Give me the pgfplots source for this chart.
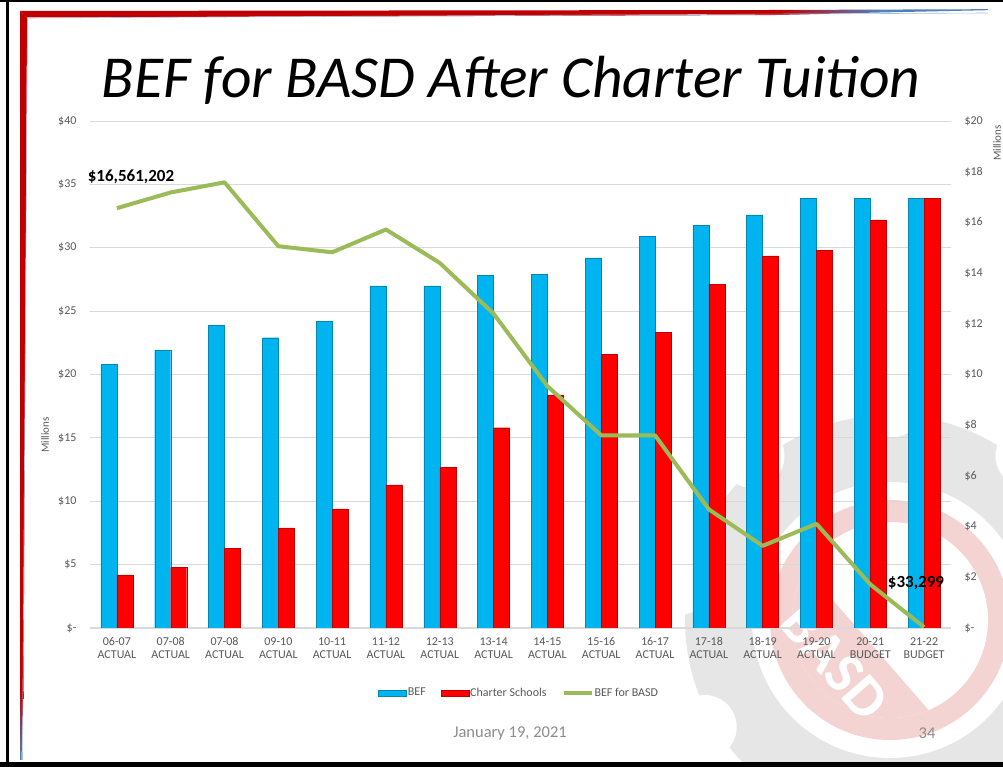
\documentclass[border=0pt]{standalone}
\usepackage{pgfplots}
\pgfplotsset{compat=1.18}
\usepackage{pgfplotstable}
\usepackage{fontspec}
\setmainfont{Carlito}

\definecolor{befblue}{HTML}{00B4F0}
\definecolor{chred}{HTML}{FF0000}
\definecolor{basdgreen}{HTML}{9BBB59}
\definecolor{ticktext}{HTML}{595959}
\definecolor{gridc}{HTML}{D9D9D9}
\definecolor{framered}{HTML}{C00000}
\definecolor{frameblue}{HTML}{4F81BD}
\definecolor{geargray}{HTML}{E6E6E6}
\definecolor{logopink}{HTML}{F4D3D3}
\definecolor{footgray}{HTML}{8C8C8C}

\pgfplotsset{
  widebar legend/.style={legend image code/.code={\draw[##1] (0pt,-3pt) rectangle (28pt,3pt);}},
  wideline legend/.style={legend image code/.code={\draw[##1] (0pt,0pt) -- (28pt,0pt);}},
}

% millions of dollars; bef and charter on the left axis, basd on the right
\pgfplotstableread{
idx bef   charter basd
0   20.8  4.2     16.561
1   21.9  4.76    17.18
2   23.9  6.3     17.58
3   22.9  7.9     15.06
4   24.2  9.4     14.82
5   27.0  11.3    15.72
6   27.0  12.65   14.4
7   27.8  15.8    12.4
8   27.9  18.4    9.54
9   29.2  21.6    7.6
10  30.9  23.3    7.6
11  31.75 27.1    4.68
12  32.6  29.35   3.24
13  33.9  29.8    4.11
14  33.9  32.2    1.72
15  33.9  33.9    0.033
}\befdata

\begin{document}
\begin{tikzpicture}
\useasboundingbox (0,0) rectangle (1003pt,767pt);
\begin{scope}[x=1pt,y=-1pt,yshift=767pt]
  \fill[white] (0,0) rectangle (1003,767);
  % faint logo in the lower right
  \begin{scope}[shift={(890,620)}]
    \fill[geargray] (0,0) circle (205pt);
    \foreach \a in {10,50,...,370} \fill[white] (\a:214pt) circle (32pt);
    \fill[white] (0,0) circle (138pt);
    \fill[logopink] (0,0) circle (120pt);
    \fill[white] (0,0) circle (98pt);
    \begin{scope}
      \clip (0,0) circle (98pt);
      \fill[logopink, rotate=-49] (-150pt,-100pt) rectangle (150pt,-30pt);
    \end{scope}
    \node[white, font=\bfseries\fontsize{58}{60}\selectfont, rotate=-49] at (-55,42) {BASD};
  \end{scope}
  % slide frame
  \fill[black] (0,0) rectangle (1003,2.5);
  \fill[black] (6,0) rectangle (9,767);
  \fill[black] (0,762) rectangle (1003,767);
  \fill[framered] (20,11) -- (780,10) -- (780,15) -- (27,17.5) -- cycle;
  \shade[left color=framered, right color=frameblue] (780,10) -- (880,9.6) -- (880,12.5) -- (780,15) -- cycle;
  \fill[frameblue] (880,9.6) -- (988,9.2) -- (988,10.2) -- (880,12.5) -- cycle;
  \fill[framered] (20,11) -- (27,17.5) -- (23.5,690) -- (20,690) -- cycle;
  \shade[top color=framered, bottom color=frameblue] (20,690) -- (23.5,690) -- (21.5,760) -- (20,760) -- cycle;
  \draw[frameblue!50, line width=0.6pt] (27.5,18) -- (988,13);
  \draw[frameblue!50, line width=0.6pt] (27.5,18) -- (22.5,760);
  % title and footer
  \node[anchor=base, font=\itshape\fontsize{59.5}{64}\selectfont] at (511,98) {BEF for BASD After Charter Tuition};
  \node[footgray, font=\fontsize{16.5}{18}\selectfont] at (510,733) {January 19, 2021};
  \node[footgray, font=\fontsize{16.5}{18}\selectfont] at (927,733) {34};
  % axis titles
  \node[ticktext, rotate=90, font=\fontsize{11}{12}\selectfont] at (45,435) {Millions};
  \node[ticktext, rotate=90, font=\fontsize{11}{12}\selectfont] at (997,143) {Millions};
\end{scope}

\begin{axis}[
    at={(90pt,139pt)}, anchor=south west,
    width=861pt, height=507pt, scale only axis,
    xmin=-0.5, xmax=15.5, ymin=0, ymax=40,
    ybar=0pt, bar width=16pt,
    axis x line*=bottom, axis y line*=left,
    x axis line style={gridc, line width=1pt},
    y axis line style={draw=none},
    major tick length=0pt,
    xtick={0,...,15},
    xticklabels={06-07\\ACTUAL,07-08\\ACTUAL,07-08\\ACTUAL,09-10\\ACTUAL,10-11\\ACTUAL,
      11-12\\ACTUAL,12-13\\ACTUAL,13-14\\ACTUAL,14-15\\ACTUAL,15-16\\ACTUAL,16-17\\ACTUAL,
      17-18\\ACTUAL,18-19\\ACTUAL,19-20\\ACTUAL,20-21\\BUDGET,21-22\\BUDGET},
    xticklabel style={align=center, yshift=-6pt, font=\fontsize{12}{13}\selectfont},
    ytick={0,5,...,40},
    yticklabels={\$-,\$5,\$10,\$15,\$20,\$25,\$30,\$35,\$40},
    yticklabel style={xshift=-10pt, font=\fontsize{12}{13}\selectfont},
    tick label style={text=ticktext},
    ymajorgrids, grid style={gridc, line width=0.8pt},
    legend style={at={(0.498,-0.128)}, anchor=center, draw=none, fill=none,
      legend columns=3, font=\fontsize{12}{13}\selectfont, text=ticktext,
      nodes={inner xsep=1pt},
      /tikz/every even column/.append style={column sep=14pt}},
  ]
  \addplot[fill=befblue, draw=befblue!75!black, line width=0.4pt, widebar legend]
    table[x=idx, y=bef] {\befdata};
  \addlegendentry{BEF}
  \addplot[fill=chred, draw=chred!75!black, line width=0.4pt, widebar legend]
    table[x=idx, y=charter] {\befdata};
  \addlegendentry{Charter Schools}
  \addlegendimage{basdgreen, line width=4pt, wideline legend}
  \addlegendentry{BEF for BASD}
\end{axis}

\begin{axis}[
    at={(90pt,139pt)}, anchor=south west,
    width=861pt, height=507pt, scale only axis,
    xmin=-0.5, xmax=15.5, ymin=0, ymax=20,
    axis x line=none, axis y line*=right,
    y axis line style={draw=none},
    major tick length=0pt,
    ytick={0,2,...,20},
    yticklabels={\$-,\$2,\$4,\$6,\$8,\$10,\$12,\$14,\$16,\$18,\$20},
    yticklabel style={xshift=10pt, font=\fontsize{12}{13}\selectfont, text=ticktext},
  ]
  \addplot[basdgreen, line width=4pt, line join=round] table[x=idx, y=basd] {\befdata};
\end{axis}

% value call-outs on top of the plot
\begin{scope}[x=1pt,y=-1pt,yshift=767pt]
  \node[font=\bfseries\fontsize{17}{18}\selectfont] at (131,177) {\$16,561,202};
  \node[font=\bfseries\fontsize{17}{18}\selectfont] at (916,583) {\$33,299};
\end{scope}
\end{tikzpicture}
\end{document}
